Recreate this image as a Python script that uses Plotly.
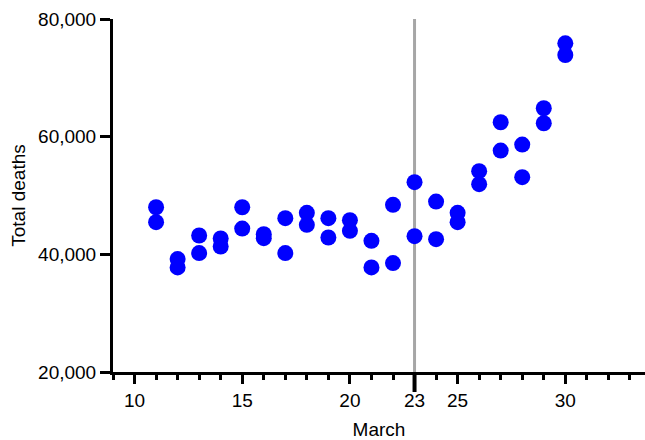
import plotly.graph_objects as go

days = [11, 11, 12, 12, 13, 13, 14, 14, 15, 15, 16, 16, 17, 17, 18, 18, 19, 19, 20, 20,
        21, 21, 22, 22, 23, 23, 24, 24, 25, 25, 26, 26, 27, 27, 28, 28, 29, 29, 30, 30]
deaths = [48000, 45470, 39190, 37770, 43200, 40210, 42690, 41330, 48000, 44380,
          43430, 42750, 46150, 40210, 47050, 45010, 46150, 42860, 45810, 44000,
          42300, 37770, 48410, 38510, 52260, 43090, 48970, 42580, 47050, 45470,
          54130, 51920, 62450, 57630, 58650, 53110, 64830, 62280, 75870, 73880]

x_tickvals = [10, 15, 20, 23, 25, 30]
y_tickvals = [20000, 40000, 60000, 80000]
marker_day = 23

FONT = "Liberation Sans, Arial, sans-serif"
FS = 19

fig = go.Figure()
fig.add_trace(go.Scatter(
    x=days, y=deaths, mode="markers",
    marker=dict(size=16, color="#0000ff", line=dict(width=0)),
    cliponaxis=False, showlegend=False,
))

# grey reference line at March 23
fig.add_shape(type="line", xref="x", yref="y", x0=marker_day, x1=marker_day,
              y0=y_tickvals[0], y1=y_tickvals[-1],
              line=dict(color="#a6a6a6", width=3), layer="below")
# emphasised long tick at March 23
fig.add_shape(type="line", xref="x", yref="paper", ysizemode="pixel", yanchor=0,
              x0=marker_day, x1=marker_day, y0=0, y1=-20,
              line=dict(color="black", width=4), layer="above")

fig.update_layout(
    width=645, height=440,
    margin=dict(l=113, r=0, t=19, b=68, autoexpand=False),
    plot_bgcolor="white", paper_bgcolor="white",
    font=dict(family=FONT, size=FS, color="black"),
    xaxis=dict(
        range=[9, 33.7], tickvals=x_tickvals, ticktext=[str(v) for v in x_tickvals],
        showline=True, linewidth=3, linecolor="black",
        ticks="outside", ticklen=9, tickwidth=3, tickcolor="black",
        minor=dict(dtick=1, tick0=0, ticks="outside", ticklen=5, tickwidth=3, tickcolor="black"),
        showgrid=False, zeroline=False, automargin=False,
        tickfont=dict(size=FS),
        title=dict(text="March", font=dict(size=FS), standoff=15),
    ),
    yaxis=dict(
        range=[20000, 80000], tickvals=y_tickvals, tickformat=",",
        showline=True, linewidth=3, linecolor="black",
        ticks="outside", ticklen=10, tickwidth=3, tickcolor="black",
        showgrid=False, zeroline=False, automargin=False,
        tickfont=dict(size=FS),
        title=dict(text="Total deaths", font=dict(size=FS), standoff=8),
    ),
)

fig.write_html("out.html", config={"displayModeBar": False},
               post_script="document.body.style.margin='0';")
